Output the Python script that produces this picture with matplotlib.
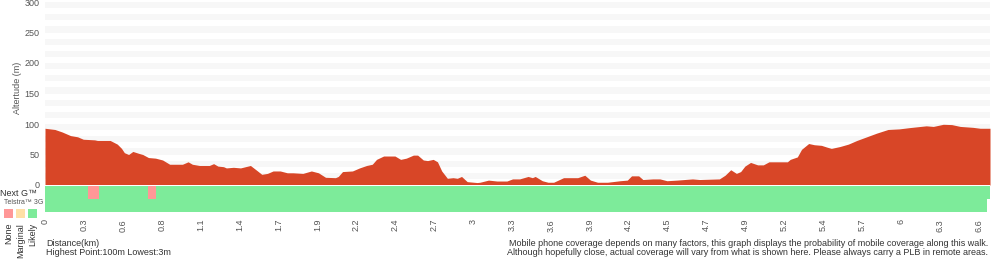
import numpy as np
import matplotlib
matplotlib.use('Agg')
import matplotlib.pyplot as plt
from matplotlib.patches import Rectangle

plt.rcParams['font.family'] = ['Liberation Sans', 'DejaVu Sans']

# --- elevation profile (km, m) ---
dist_km = [0.00, 0.07, 0.12, 0.18, 0.23, 0.27, 0.35, 0.37, 0.46, 0.51, 0.54, 0.56,
           0.59, 0.62, 0.66, 0.69, 0.73, 0.78, 0.83, 0.88, 0.97, 1.01, 1.04, 1.09,
           1.16, 1.19, 1.22, 1.26, 1.28, 1.33, 1.38, 1.45, 1.50, 1.53, 1.57, 1.61,
           1.66, 1.71, 1.75, 1.82, 1.88, 1.93, 1.98, 2.05, 2.07, 2.10, 2.17, 2.22,
           2.27, 2.31, 2.34, 2.39, 2.47, 2.51, 2.55, 2.60, 2.63, 2.67, 2.70, 2.74,
           2.77, 2.80, 2.84, 2.88, 2.91, 2.94, 2.98, 3.05, 3.07, 3.13, 3.19, 3.26,
           3.30, 3.35, 3.41, 3.44, 3.46, 3.51, 3.55, 3.59, 3.66, 3.71, 3.76, 3.81,
           3.85, 3.90, 3.97, 4.06, 4.11, 4.14, 4.19, 4.22, 4.29, 4.34, 4.39, 4.46,
           4.57, 4.62, 4.76, 4.80, 4.84, 4.88, 4.91, 4.94, 4.98, 5.03, 5.07, 5.11,
           5.24, 5.26, 5.31, 5.34, 5.39, 5.43, 5.48, 5.52, 5.55, 5.61, 5.67, 5.73,
           5.80, 5.87, 5.95, 6.03, 6.10, 6.22, 6.27, 6.34, 6.40, 6.46, 6.55, 6.60,
           6.67]
elev_m = [93, 91, 87, 81, 79, 75, 74, 73, 73, 67, 60, 53,
          50, 55, 52, 50, 45, 44, 41, 34, 34, 38, 34, 32,
          32, 35, 31, 30, 28, 29, 28, 32, 23, 17.5, 19, 23,
          23, 20, 20, 19, 23, 20, 12.6, 12, 14, 22, 23, 28,
          32, 34, 42, 47.5, 47.5, 42, 44, 49, 49, 41, 40, 42,
          38, 23, 11, 12, 11, 14, 5.5, 4, 4.5, 8, 6.5, 6.5,
          10, 10, 14, 12, 14, 7, 4.5, 4.5, 12, 12, 12, 16,
          8, 4.5, 4.5, 7, 8, 15, 15, 9, 10, 10, 7, 8,
          10, 9, 10, 16, 25, 19, 22, 31, 37, 33, 33, 38,
          38, 42, 46, 58.5, 68, 66, 65, 62, 60, 63, 67, 73,
          79, 85, 91, 92, 94, 97, 96, 99.5, 99, 96, 94.5, 93,
          93]

# --- coverage segments ---
nextg_start = [0.00, 0.30, 0.38, 0.73, 0.78]
nextg_end = [0.30, 0.38, 0.73, 0.78, 6.67]
nextg_level = ['Likely', 'None', 'Likely', 'None', 'Likely']
g3_start = [0.00]
g3_end = [6.65]
g3_level = ['Likely']

tick_labels = ['0', '0.3', '0.6', '0.8', '1.1', '1.4', '1.7', '1.9', '2.2', '2.4',
               '2.7', '3', '3.3', '3.6', '3.9', '4.2', '4.5', '4.7', '4.9', '5.2',
               '5.4', '5.7', '6', '6.3', '6.6']
tick_step_km = 0.2746
total_km = 6.67

level_colors = {'None': '#ff9797', 'Marginal': '#ffe0a6', 'Likely': '#7deb9a'}
fill_color = '#d84627'
tick_color = '#555555'
text_color = '#333333'
fs = 6.5

W, H = 1000, 260
fig = plt.figure(figsize=(W / 100, H / 100), dpi=100)


def fx(px):
    return px / W


def fy(py):
    return 1 - py / H


# main elevation axes
ax = fig.add_axes([fx(45), fy(185), fx(945), (185 - 2) / H])
for lo in range(10, 300, 20):
    ax.axhspan(lo, lo + 10, color='#f7f7f7', lw=0, zorder=0)
ax.fill_between(dist_km, elev_m, 0, color=fill_color, lw=0, zorder=2)
ax.set_xlim(0, total_km)
ax.set_ylim(0, 300)
ax.set_yticks(range(0, 301, 50))
ax.set_xticks([])
ax.tick_params(axis='y', length=0, pad=4, labelsize=fs, labelcolor=tick_color)
for s in ax.spines.values():
    s.set_visible(False)

# coverage axes
cov = fig.add_axes([fx(45), fy(212), fx(945), (212 - 185) / H])
for row, starts, ends, levels in [(1, nextg_start, nextg_end, nextg_level),
                                  (0, g3_start, g3_end, g3_level)]:
    for s, e, lv in zip(starts, ends, levels):
        cov.barh(row + 0.5, e - s, left=s, height=1, color=level_colors[lv], lw=0)
cov.set_xlim(0, total_km)
cov.set_ylim(0, 2.05)
cov.set_yticks([])
ticks = np.arange(len(tick_labels)) * tick_step_km
cov.set_xticks(ticks, tick_labels, rotation=90)
cov.tick_params(axis='x', length=0, pad=5, labelsize=fs, labelcolor=tick_color)
for s in cov.spines.values():
    s.set_visible(False)

# left side labels
fig.text(fx(17), fy(88), 'Altertude (m)', rotation=90, ha='center', va='center',
         fontsize=fs, color=tick_color)
fig.text(fx(37), fy(193), 'Next G™', ha='right', va='center', fontsize=fs, color=text_color)
fig.text(fx(4), fy(203), 'Telstra™ 3G', ha='left', va='center', fontsize=5, color=tick_color)

legend_names = ['None', 'Marginal', 'Likely']
for i, name in enumerate(legend_names):
    x0 = 4 + i * 12
    fig.patches.append(Rectangle((fx(x0), fy(218)), fx(9), 9 / H,
                                 transform=fig.transFigure,
                                 facecolor=level_colors[name], edgecolor='none'))
    fig.text(fx(x0 + 4.5), fy(223), name, rotation=90, ha='center', va='top',
             fontsize=fs, color=text_color)

# bottom notes
fig.text(fx(46), fy(243.5), 'Distance(km)', ha='left', va='center', fontsize=fs, color=text_color)
fig.text(fx(46), fy(252.5), 'Highest Point:100m Lowest:3m', ha='left', va='center',
         fontsize=fs, color=text_color)
fig.text(fx(988), fy(243.5),
         'Mobile phone coverage depends on many factors, this graph displays the probability '
         'of mobile coverage along this walk.',
         ha='right', va='center', fontsize=fs, color=text_color)
fig.text(fx(988), fy(252.5),
         'Although hopefully close, actual coverage will vary from what is shown here. '
         'Please always carry a PLB in remote areas.',
         ha='right', va='center', fontsize=fs, color=text_color)

fig.savefig('out.png', dpi=100)
